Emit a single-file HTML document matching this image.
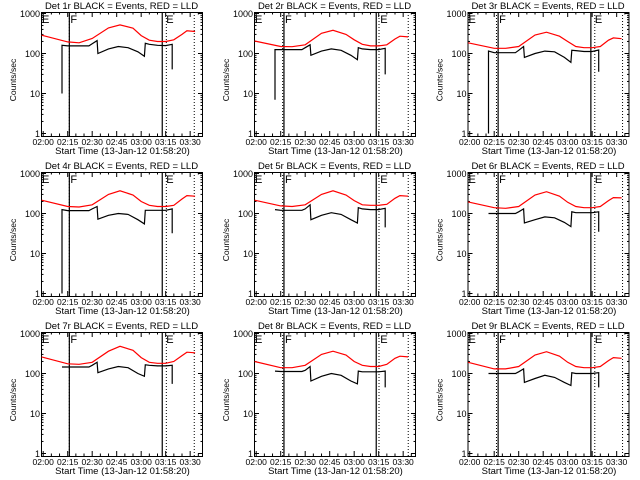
<!DOCTYPE html>
<html><head><meta charset="utf-8"><style>
html,body{margin:0;padding:0;background:#fff;}
svg{display:block;font-family:"Liberation Sans",sans-serif;}
</style></head><body>
<svg id="chart" width="640" height="480" viewBox="0 0 640 480" xmlns="http://www.w3.org/2000/svg">
<rect x="0" y="0" width="640" height="480" fill="#fff"/>
</svg>
<script>
const detLabels = ['1r','2r','3r','4r','5r','6r','7r','8r','9r'];
const redT = [-1,15,22,30,40,47,55,60,65,70,75,80,85,88,93];
const redDet1 = [287,195,185,237,437,520,430,280,215,200,200,220,300,370,355];
const redDet2 = [205,150,148,165,320,380,300,220,170,155,155,165,230,270,260];
const redDet3 = [185,135,135,150,290,340,270,200,150,140,140,150,215,245,235];
const redDet4 = [215,150,145,165,300,370,290,200,160,150,150,160,230,280,270];
const redDet5 = [215,155,150,165,300,370,290,210,165,160,160,170,240,280,270];
const redDet6 = [195,140,135,150,290,350,270,190,150,140,140,150,210,250,245];
const redDet7 = [260,175,170,190,360,480,380,250,190,180,180,200,280,340,330];
const redDet8 = [200,140,140,160,300,360,290,200,160,150,150,170,240,270,260];
const redDet9 = [190,130,130,150,290,350,270,190,150,140,140,150,210,250,240];
const blackT = [11.5,11.5,15,28,30,33,33.5,40,46,52,58,62,62.5,65,70,75,79,79];
const blackDet1 = [10,160,155,155,175,210,100,130,150,140,110,85,180,170,160,158,170,40];
const blackDet2 = [7,125,125,125,140,165,90,115,130,120,90,70,140,130,125,125,135,30];
const blackDet3 = [1,115,105,105,120,150,80,100,115,110,80,60,120,118,112,112,122,35];
const blackDet4 = [1,125,118,118,130,150,72,90,100,95,70,55,120,120,120,120,130,32];
const blackDet5 = [125,125,120,120,130,165,70,90,105,95,70,58,140,130,125,125,135,45];
const blackDet6 = [100,100,100,100,110,130,58,70,82,78,60,47,110,105,105,105,110,35];
const blackDet7 = [145,145,145,145,160,190,105,130,150,140,100,85,165,160,155,155,160,55];
const blackDet8 = [115,115,112,112,120,150,65,85,100,90,65,55,115,110,110,110,115,45];
const blackDet9 = [100,100,100,100,110,130,60,75,90,80,60,50,105,100,100,100,105,45];
const solidLinesByCol = [[16,72.9],[17,73.5],[17.4,74.2]];
const dottedLinesByCol = [[16,75.4,92.5],[16.2,75.2,93.1],[16.4,76.6,93.6]];
const xTickMinutes = [0,15,30,45,60,75,90];
const xTickLabels = ['02:00','02:15','02:30','02:45','03:00','03:15','03:30'];
const yTickValues = [1,10,100,1000];
const yTickLabels = ['1','10','100','1000'];

const reds = [redDet1,redDet2,redDet3,redDet4,redDet5,redDet6,redDet7,redDet8,redDet9];
const blacks = [blackDet1,blackDet2,blackDet3,blackDet4,blackDet5,blackDet6,blackDet7,blackDet8,blackDet9];
const NS = 'http://www.w3.org/2000/svg';
const svg = document.getElementById('chart');
const BW = 161, BH = 124;
function mk(tag, attrs, parent){const e=document.createElementNS(NS,tag);for(const k in attrs)e.setAttribute(k,attrs[k]);parent.appendChild(e);return e;}
function xs(t,left){return left+2.2+1.633*t;}
function ys(v,top){v=Math.max(v,1);return top+121.5-40*Math.log10(v);}

for(let i=0;i<9;i++){
  const col=i%3,row=Math.floor(i/3);
  const left=41+213*col+(col==2?0.5:0), top=12+160*row;
  const g=mk('g',{},svg);
  
  
  const clipId='clip'+i;
  const cp=mk('clipPath',{id:clipId},g);
  mk('rect',{x:left,y:top,width:BW,height:BH},cp);
  const title=mk('text',{x:left+BW/2,y:top-3,'text-anchor':'middle','font-size':'9.5'},g);
  title.textContent='Det '+detLabels[i]+' BLACK = Events, RED = LLD';
  
  
  const box=mk('rect',{x:left+0.5,y:top+0.5,width:BW,height:BH,fill:'none',stroke:'#000','stroke-width':1},g);
  
  
  for(let d=0;d<yTickValues.length;d++){
    const y=ys(yTickValues[d],top);
    mk('line',{x1:left,x2:left+5,y1:y,y2:y,stroke:'#000'},g);
    mk('line',{x1:left+BW-4,x2:left+BW+1,y1:y,y2:y,stroke:'#000'},g);
    const lab=mk('text',{x:left-1,y:y+3.5,'text-anchor':'end','font-size':'9'},g);
    lab.textContent=yTickLabels[d];
    
    
    if(d<yTickValues.length-1){
      for(let m=2;m<10;m++){
        const ym=ys(yTickValues[d]*m,top);
        mk('line',{x1:left,x2:left+2.5,y1:ym,y2:ym,stroke:'#000'},g);
        mk('line',{x1:left+BW-1.5,x2:left+BW+1,y1:ym,y2:ym,stroke:'#000'},g);
      }
    }
  }
  for(let m=0;m<=95;m+=5){
    const x=xs(m,left);
    const major=m%15==0, L=major?5:2.5;
    mk('line',{x1:x,x2:x,y1:top+BH,y2:top+BH-L,stroke:'#000'},g);
    mk('line',{x1:x,x2:x,y1:top,y2:top+L,stroke:'#000'},g);
  }
  for(let k=0;k<xTickMinutes.length;k++){
    const lab=mk('text',{x:xs(xTickMinutes[k],left),y:top+BH+9,'text-anchor':'middle','font-size':'8.5'},g);
    lab.textContent=xTickLabels[k];
    
    
  }
  const xt=mk('text',{x:left+BW/2+1,y:top+BH+18,'text-anchor':'middle','font-size':'9.5'},g);
  xt.textContent='Start Time (13-Jan-12 01:58:20)';
  
  
  const yt=mk('text',{x:0,y:0,'text-anchor':'middle','font-size':'8.5',transform:'translate('+(left-25)+','+(top+BH/2+6)+') rotate(-90)'},g);
  yt.textContent='Counts/sec';
  
  
  const sol=solidLinesByCol[col], dot=dottedLinesByCol[col];
  for(const t of dot){
    const x=xs(t,left);
    const l=mk('line',{x1:x,x2:x,y1:top,y2:top+BH,stroke:'#000','stroke-dasharray':'1,2'},g);
    
    
  }
  for(const t of sol){
    const x=xs(t,left);
    const l=mk('line',{x1:x,x2:x,y1:top,y2:top+BH,stroke:'#000','stroke-width':1.2},g);
    
    
  }
  const labs=[['E',left+1],['F',xs(sol[0],left)+1],['E',xs(sol[1],left)+4]];
  for(const [s,x] of labs){
    const e=mk('text',{x:x,y:top+11,'font-size':'11'},g);
    e.textContent=s;
    
    
  }
  const rp=redT.map((t,j)=>xs(t,left).toFixed(1)+','+ys(reds[i][j],top).toFixed(1)).join(' ');
  const red=mk('polyline',{points:rp,fill:'none',stroke:'#ff0000','stroke-width':1.2,'clip-path':'url(#'+clipId+')'},g);
  
  
  const bp=blackT.map((t,j)=>xs(t,left).toFixed(1)+','+ys(blacks[i][j],top).toFixed(1)).join(' ');
  const blk=mk('polyline',{points:bp,fill:'none',stroke:'#000','stroke-width':1.2,'clip-path':'url(#'+clipId+')'},g);
  
  
}
</script>
</body></html>
